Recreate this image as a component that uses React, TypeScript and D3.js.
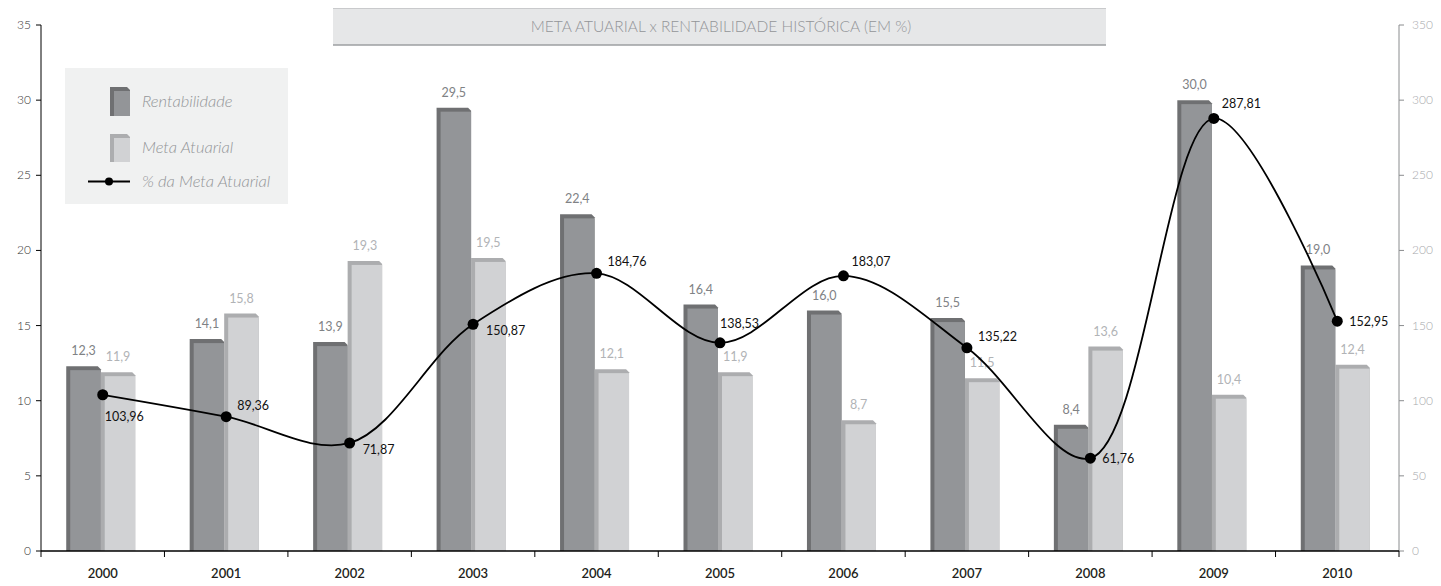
import * as d3 from 'd3';

const YEARS = ['2000', '2001', '2002', '2003', '2004', '2005', '2006', '2007', '2008', '2009', '2010'];
const RENTABILIDADE = [12.3, 14.1, 13.9, 29.5, 22.4, 16.4, 16.0, 15.5, 8.4, 30.0, 19.0];
const META = [11.9, 15.8, 19.3, 19.5, 12.1, 11.9, 8.7, 11.5, 13.6, 10.4, 12.4];
const PCT_META = [103.96, 89.36, 71.87, 150.87, 184.76, 138.53, 183.07, 135.22, 61.76, 287.81, 152.95];
// where each % label sits relative to its dot
const PCT_PLACE = ['below', 'upRight', 'downRight', 'downRight', 'upRight', 'up', 'high', 'upRight', 'right', 'high', 'right'];
const LEFT_TICKS = [0, 5, 10, 15, 20, 25, 30, 35];
const RIGHT_TICKS = [0, 50, 100, 150, 200, 250, 300, 350];

const W = 1441;
const H = 586;
const M = { top: 25, right: 42, bottom: 35, left: 41 };
const FONT = 'Lato, "Open Sans", sans-serif';

const PLACE_OFFSET: Record<string, [number, number]> = {
  below: [2, 26],
  upRight: [11, -7],
  downRight: [13, 11],
  up: [0, -15],
  high: [8, -10],
  right: [12, 5],
};

const fmt = (v: number, d: number) => v.toFixed(d).replace('.', ',');

const SERIES = [
  { key: 'r', values: RENTABILIDADE, side: '#6f7072', front: '#939598', label: '#808285' },
  { key: 'm', values: META, side: '#acadaf', front: '#d1d2d4', label: '#b1b3b6' },
];

function Bar3D({ x, y, w, bottom, side, front }: any) {
  const d = 4;
  const h = bottom - y;
  if (h <= 0) return null;
  const outline = `M${x},${y}L${x + w - 3},${y}L${x + w},${y + 3}L${x + w},${bottom}L${x},${bottom}Z`;
  return (
    <g>
      <path d={outline} fill={side} />
      <rect x={x + d} y={y + d} width={w - d} height={Math.max(0, h - d)} fill={front} />
    </g>
  );
}

export default function App() {
  const x = d3.scaleBand<string>().domain(YEARS).range([M.left, W - M.right]);
  const yL = d3.scaleLinear().domain([0, 35]).range([H - M.bottom, M.top]);
  const yR = d3.scaleLinear().domain([0, 350]).range([H - M.bottom, M.top]);
  const bw = x.bandwidth();
  const groupW = 69;
  const inner = d3.scaleBand<string>().domain(['r', 'm']).range([0, groupW]);
  const gx = (yr: string) => (x(yr) ?? 0) + (bw - groupW) / 2 - 2;
  const cx = (yr: string) => (x(yr) ?? 0) + bw / 2;

  const line = d3
    .line<number>()
    .x((_, i) => cx(YEARS[i]))
    .y((v) => yR(v))
    .curve(d3.curveCatmullRom.alpha(0.5));

  const base = yL(0);
  const boundaries = [...YEARS.map((yr) => x(yr) ?? 0), W - M.right];

  return (
    <div style={{ position: 'absolute', left: 0, top: 0 }}>
      <svg width={W} height={H} style={{ display: 'block', fontFamily: FONT }}>
        <rect width={W} height={H} fill="#fff" />

        {/* title */}
        <rect x={333} y={8} width={773} height={37} fill="#e6e7e8" />
        <line x1={333} x2={1106} y1={8.5} y2={8.5} stroke="#c9cacc" />
        <line x1={333} x2={1106} y1={45} y2={45} stroke="#9d9fa2" strokeWidth={1.5} />
        <text x={721} y={32} textAnchor="middle" fontSize={15.5} fontWeight={300} fill="#939598">
          META ATUARIAL x RENTABILIDADE HISTÓRICA (EM %)
        </text>

        {/* legend */}
        <rect x={65} y={68} width={223} height={136} fill="#f0f1f1" />
        <Bar3D x={110} y={87} w={20} bottom={116} side="#6f7072" front="#939598" />
        <text x={142} y={107} fontSize={16.5} fontStyle="italic" fontWeight={300} fill="#939598">Rentabilidade</text>
        <Bar3D x={110} y={134} w={20} bottom={162} side="#acadaf" front="#d1d2d4" />
        <text x={142} y={153} fontSize={16.5} fontStyle="italic" fontWeight={300} fill="#939598">Meta Atuarial</text>
        <line x1={88} x2={130} y1={181.5} y2={181.5} stroke="#000" strokeWidth={2} />
        <circle cx={109} cy={181.5} r={4} fill="#000" />
        <text x={142} y={187} fontSize={16.5} fontStyle="italic" fontWeight={300} fill="#939598">% da Meta Atuarial</text>

        {/* left axis */}
        <line x1={M.left} x2={M.left} y1={M.top} y2={base} stroke="#000" />
        {LEFT_TICKS.map((t) => (
          <g key={t}>
            <line x1={M.left - 5} x2={M.left} y1={yL(t)} y2={yL(t)} stroke="#000" />
            <text x={M.left - 10} y={yL(t) + 4} textAnchor="end" fontSize={12} fontWeight={300} fill="#333">{t}</text>
          </g>
        ))}

        {/* right axis */}
        <line x1={W - M.right} x2={W - M.right} y1={M.top} y2={base} stroke="#8a8c8e" />
        {RIGHT_TICKS.map((t) => (
          <g key={t}>
            <line x1={W - M.right} x2={W - M.right + 5} y1={yR(t)} y2={yR(t)} stroke="#8a8c8e" />
            <text x={W - M.right + 13} y={yR(t) + 4} fontSize={12} fontWeight={300} fill="#a7a9ac">{t}</text>
          </g>
        ))}

        {/* bars */}
        {YEARS.map((yr, i) => (
          <g key={yr}>
            {SERIES.map((s) => {
              const bx = gx(yr) + (inner(s.key) ?? 0);
              const w = inner.bandwidth();
              const top = yL(s.values[i]);
              return (
                <g key={s.key}>
                  <Bar3D x={bx} y={top} w={w} bottom={base} side={s.side} front={s.front} />
                  <text x={bx + w / 2} y={top - 11} textAnchor="middle" fontSize={12.5} fill={s.label}>
                    {fmt(s.values[i], 1)}
                  </text>
                </g>
              );
            })}
          </g>
        ))}

        {/* x axis */}
        <line x1={M.left} x2={W - M.right} y1={base} y2={base} stroke="#000" strokeWidth={1.5} />
        {boundaries.map((b, i) => (
          <line key={i} x1={b} x2={b} y1={base} y2={base + 6} stroke="#000" />
        ))}
        {YEARS.map((yr) => (
          <text key={yr} x={cx(yr)} y={578} textAnchor="middle" fontSize={13} fontWeight={600} fill="#231f20">{yr}</text>
        ))}

        {/* % line */}
        <path d={line(PCT_META) ?? ''} fill="none" stroke="#000" strokeWidth={1.8} />
        {PCT_META.map((v, i) => {
          const px = cx(YEARS[i]);
          const py = yR(v);
          const [dx, dy] = PLACE_OFFSET[PCT_PLACE[i]];
          return (
            <g key={i}>
              <circle cx={px} cy={py} r={5.5} fill="#000" />
              <text x={px + dx} y={py + dy} fontSize={12.5} fill="#111">{fmt(v, 2)}</text>
            </g>
          );
        })}
      </svg>
    </div>
  );
}
